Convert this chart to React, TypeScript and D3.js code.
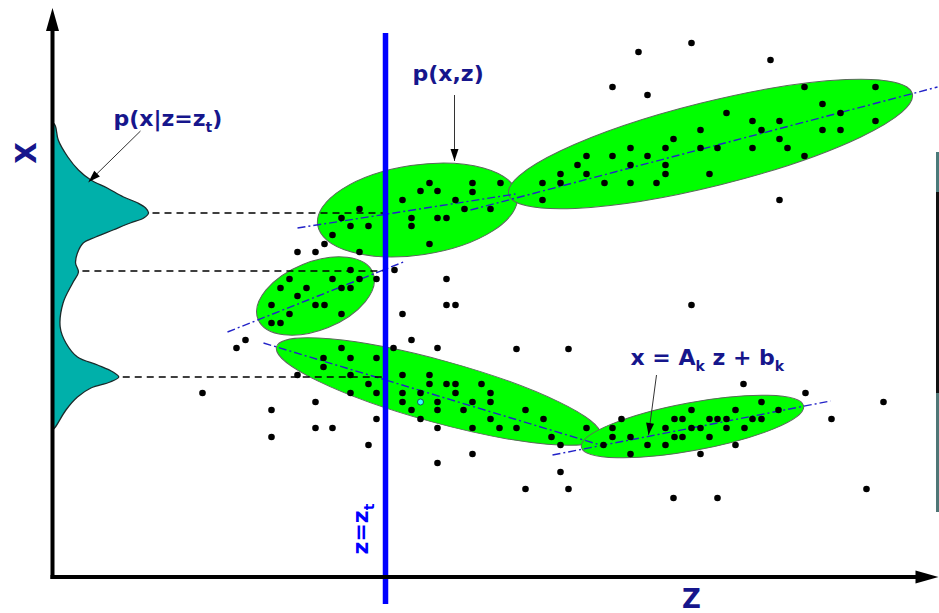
import React from 'react';
import * as d3 from 'd3';

const W = 939;
const H = 613;

// Observed samples (z, x)
const samples: [number, number][] = [
  [586, 525], [639, 534], [718, 517], [560, 490], [595, 482], [752, 490], [823, 490],
  [770, 473], [788, 464], [674, 464], [700, 456], [727, 456], [823, 456], [648, 447],
  [709, 447], [770, 447], [788, 447], [621, 438], [727, 438], [578, 429], [613, 429],
  [648, 429], [665, 429], [700, 429], [735, 429], [534, 421], [560, 421], [595, 421],
  [752, 421], [525, 412], [578, 412], [613, 412], [508, 403], [534, 403], [613, 403],
  [657, 403], [490, 394], [508, 394], [552, 394], [578, 394], [604, 394], [490, 377],
  [727, 377], [448, 394],
  [377, 394], [368, 386], [385, 386], [350, 377], [307, 368], [289, 359], [359, 359],
  [385, 359], [394, 359], [298, 351], [316, 351], [359, 351], [280, 342], [272, 333],
  [377, 333], [245, 325], [263, 325], [307, 325], [420, 394], [420, 385], [403, 377],
  [412, 368], [438, 368],
  [298, 307], [237, 298], [280, 298], [307, 298], [324, 298], [342, 307], [394, 298],
  [228, 289], [254, 289], [289, 289], [298, 289], [245, 281], [219, 272], [263, 272],
  [272, 272], [394, 272], [403, 272], [237, 263], [289, 263], [350, 263], [219, 254],
  [228, 254], [193, 237], [359, 237], [184, 229], [289, 229], [341, 229], [385, 229],
  [271, 219], [298, 219], [324, 219], [271, 210], [245, 202], [298, 202], [350, 202],
  [377, 202], [316, 193], [377, 193], [394, 193], [150, 184], [298, 184], [324, 184],
  [350, 184], [368, 184], [263, 175], [350, 175], [385, 175], [219, 167], [359, 167],
  [385, 167], [324, 158], [368, 158], [263, 149], [280, 149], [385, 149], [219, 140],
  [316, 132], [385, 114],
  [464, 228], [516, 228], [403, 193], [429, 193], [403, 184], [438, 184], [420, 175],
  [438, 175], [411, 167], [438, 158], [473, 167], [491, 158], [420, 149], [447, 149],
  [464, 149], [534, 149], [499, 140], [508, 132], [420, 123], [508, 105], [473, 88],
  [516, 88], [621, 79],
  [569, 158], [560, 149], [560, 140], [578, 140], [551, 132], [595, 132], [613, 132],
  [578, 123], [613, 149], [622, 158], [622, 140], [630, 158], [630, 140], [639, 167],
  [639, 149], [648, 149], [657, 158], [657, 140], [665, 158], [674, 158], [674, 149],
  [683, 167], [683, 132], [691, 193], [692, 149], [700, 158], [709, 175], [709, 158],
  [726, 167], [753, 184], [779, 158], [831, 175], [648, 123], [814, 88], [665, 79],
  [639, 272],
];

// The query sample, highlighted
const querySample: [number, number] = [368, 175];

// Mixture components: centre (z, x), semi-axes (major, minor), orientation in degrees
const componentCenters: [number, number][] = [
  [365, 367], [658, 433], [263, 281], [386, 185.5], [640, 150.5],
];
const componentAxes: [number, number][] = [
  [101, 45], [208, 42], [62, 34], [168, 31], [113, 24],
];
const componentAngles: number[] = [8.5, 14, 22, -15.4, 10.5];

// Local linear regressions x = A_k z + b_k, drawn between two z values
const regressionSegments: [[number, number], [number, number]][] = [
  [[245, 349], [463, 383]],
  [[418, 367], [885, 490]],
  [[175, 245], [351, 315]],
  [[211, 234], [551, 131]],
  [[500, 122], [778, 176]],
];

// Conditional density p(x | z = z_t), sampled along x
const densityX: number[] = [
  455, 451, 437, 420, 407, 397, 389, 380, 374, 369, 364, 359, 354, 347, 340, 334, 324,
  314, 305, 294, 274, 250, 234, 220, 212, 205, 200, 195, 189, 180, 167, 150, 147,
];
const densityP: number[] = [
  0, 0.03, 0.06, 0.16, 0.27, 0.4, 0.57, 0.74, 0.89, 0.97, 1.0, 0.95, 0.81, 0.63, 0.45,
  0.32, 0.26, 0.24, 0.27, 0.21, 0.11, 0.08, 0.14, 0.26, 0.47, 0.63, 0.69, 0.6, 0.4,
  0.26, 0.14, 0.03, 0,
];

// Modes of the conditional density (x, p)
const densityModes: [number, number][] = [
  [364, 1.0], [306, 0.27], [200, 0.69],
];

const zTarget = 333;

const NAVY = '#16168c';
const FONT = '"DejaVu Sans", Verdana, sans-serif';

export default function App() {
  const zScale = d3.scaleLinear().domain([0, 886]).range([52.5, 938.5]);
  const xScale = d3.scaleLinear().domain([0, 569]).range([577, 8]);
  const pScale = d3.scaleLinear().domain([0, 1]).range([zScale(0), zScale(0) + 96]);

  const densityPts = densityX.map((x, i) => [x, densityP[i]] as [number, number]);
  const areaGen = d3
    .area<[number, number]>()
    .curve(d3.curveCatmullRom.alpha(0.5))
    .y((d) => xScale(d[0]))
    .x0(() => pScale(0))
    .x1((d) => pScale(d[1]));
  const lineGen = d3
    .line<[number, number]>()
    .curve(d3.curveCatmullRom.alpha(0.5))
    .y((d) => xScale(d[0]))
    .x((d) => pScale(d[1]));

  const ox = zScale(0);
  const oy = xScale(0);
  const zEnd = zScale(886);
  const xEnd = xScale(569);

  const arrowHead = (x1: number, y1: number, x2: number, y2: number, len = 12, half = 4) => {
    const ang = Math.atan2(y2 - y1, x2 - x1);
    const bx = x2 - len * Math.cos(ang);
    const by = y2 - len * Math.sin(ang);
    const px = -Math.sin(ang) * half;
    const py = Math.cos(ang) * half;
    return `M${x2},${y2}L${bx + px},${by + py}L${bx - px},${by - py}Z`;
  };

  const annotations = [
    { from: [88, 446], to: [36, 395] },
    { from: [402, 482], to: [402, 416] },
    { from: [604, 202], to: [596, 142] },
  ];

  return (
    <svg
      width={W}
      height={H}
      style={{ position: 'absolute', left: 0, top: 0, background: '#fff' }}
      fontFamily={FONT}
    >
      {/* conditional density on the x axis */}
      <path d={areaGen(densityPts) || ''} fill="#00b0aa" stroke="none" />
      <path d={lineGen(densityPts) || ''} fill="none" stroke="#1a2a2a" strokeWidth={1.3} />

      {/* mixture components */}
      {componentCenters.map((c, i) => {
        const cx = zScale(c[0]);
        const cy = xScale(c[1]);
        const rx = zScale(componentAxes[i][0]) - zScale(0);
        const ry = xScale(0) - xScale(componentAxes[i][1]);
        return (
          <ellipse
            key={i}
            cx={cx}
            cy={cy}
            rx={rx}
            ry={ry}
            transform={`rotate(${-componentAngles[i]} ${cx} ${cy})`}
            fill="#00ff00"
            stroke="#5a6a5a"
            strokeWidth={1}
          />
        );
      })}

      {/* local regression lines */}
      {regressionSegments.map((s, i) => (
        <line
          key={i}
          x1={zScale(s[0][0])}
          y1={xScale(s[0][1])}
          x2={zScale(s[1][0])}
          y2={xScale(s[1][1])}
          stroke="#2323c8"
          strokeWidth={1.4}
          strokeDasharray="8 3 2 3"
        />
      ))}

      {/* projections of the density modes */}
      {densityModes.map((m, i) => (
        <line
          key={i}
          x1={pScale(m[1]) + 4}
          y1={xScale(m[0])}
          x2={zScale(zTarget)}
          y2={xScale(m[0])}
          stroke="#000"
          strokeWidth={1.5}
          strokeDasharray="7 5"
        />
      ))}

      {/* samples */}
      {samples.map((d, i) => (
        <circle key={i} cx={zScale(d[0])} cy={xScale(d[1])} r={3.3} fill="#000" />
      ))}
      <circle
        cx={zScale(querySample[0])}
        cy={xScale(querySample[1])}
        r={3}
        fill="#33ffff"
        stroke="#225"
        strokeWidth={0.8}
      />

      {/* z = z_t */}
      <line
        x1={zScale(zTarget)}
        y1={xScale(544)}
        x2={zScale(zTarget)}
        y2={xScale(-27)}
        stroke="#0000ff"
        strokeWidth={5.5}
      />
      <text
        transform={`translate(${zScale(zTarget) - 18},${xScale(48)}) rotate(-90)`}
        textAnchor="middle"
        fill="#0000ff"
        fontWeight="bold"
        fontSize={22}
        style={{ whiteSpace: 'pre' }}
      >
        z=z
        <tspan fontSize={14} dy={6}>t</tspan>
      </text>

      {/* axes */}
      <line x1={ox} y1={oy + 2} x2={ox} y2={xEnd + 20} stroke="#000" strokeWidth={4} />
      <path d={`M${ox},${xEnd}L${ox - 6.5},${xEnd + 23}L${ox + 6.5},${xEnd + 23}Z`} fill="#000" />
      <line x1={ox - 2} y1={oy} x2={zEnd - 20} y2={oy} stroke="#000" strokeWidth={4} />
      <path d={`M${zEnd},${oy}L${zEnd - 23},${oy - 6.5}L${zEnd - 23},${oy + 6.5}Z`} fill="#000" />

      <text
        transform={`translate(26,${xScale(424)}) rotate(-90)`}
        textAnchor="middle"
        dominantBaseline="central"
        fill={NAVY}
        fontWeight="bold"
        fontSize={28}
      >
        X
      </text>
      <text
        x={zScale(639)}
        y={608}
        textAnchor="middle"
        fill={NAVY}
        fontWeight="bold"
        fontSize={26}
      >
        Z
      </text>

      {/* annotations */}
      {annotations.map((a, i) => {
        const x1 = zScale(a.from[0]);
        const y1 = xScale(a.from[1]);
        const x2 = zScale(a.to[0]);
        const y2 = xScale(a.to[1]);
        return (
          <g key={i}>
            <line x1={x1} y1={y1} x2={x2} y2={y2} stroke="#333" strokeWidth={1} />
            <path d={arrowHead(x1, y1, x2, y2)} fill="#000" />
          </g>
        );
      })}
      <text
        x={zScale(61)}
        y={xScale(451)}
        fill={NAVY}
        fontWeight="bold"
        fontSize={22}
        style={{ whiteSpace: 'pre' }}
      >
        p(x|z=z
        <tspan fontSize={14} dy={6}>t</tspan>
        <tspan dy={-6}>)</tspan>
      </text>
      <text
        x={zScale(360)}
        y={xScale(496)}
        fill={NAVY}
        fontWeight="bold"
        fontSize={22}
      >
        p(x,z)
      </text>
      <text
        x={zScale(578)}
        y={xScale(212)}
        fill={NAVY}
        fontWeight="bold"
        fontSize={22}
        style={{ whiteSpace: 'pre' }}
      >
        x = A
        <tspan fontSize={14} dy={6}>k</tspan>
        <tspan dy={-6}> z + b</tspan>
        <tspan fontSize={14} dy={6}>k</tspan>
      </text>

      {/* frame edge */}
      <rect x={936} y={152} width={3} height={40} fill="#4a7a7a" />
      <rect x={936} y={192} width={3} height={201} fill="#111" />
      <rect x={936} y={393} width={3} height={119} fill="#4f7676" />
    </svg>
  );
}
